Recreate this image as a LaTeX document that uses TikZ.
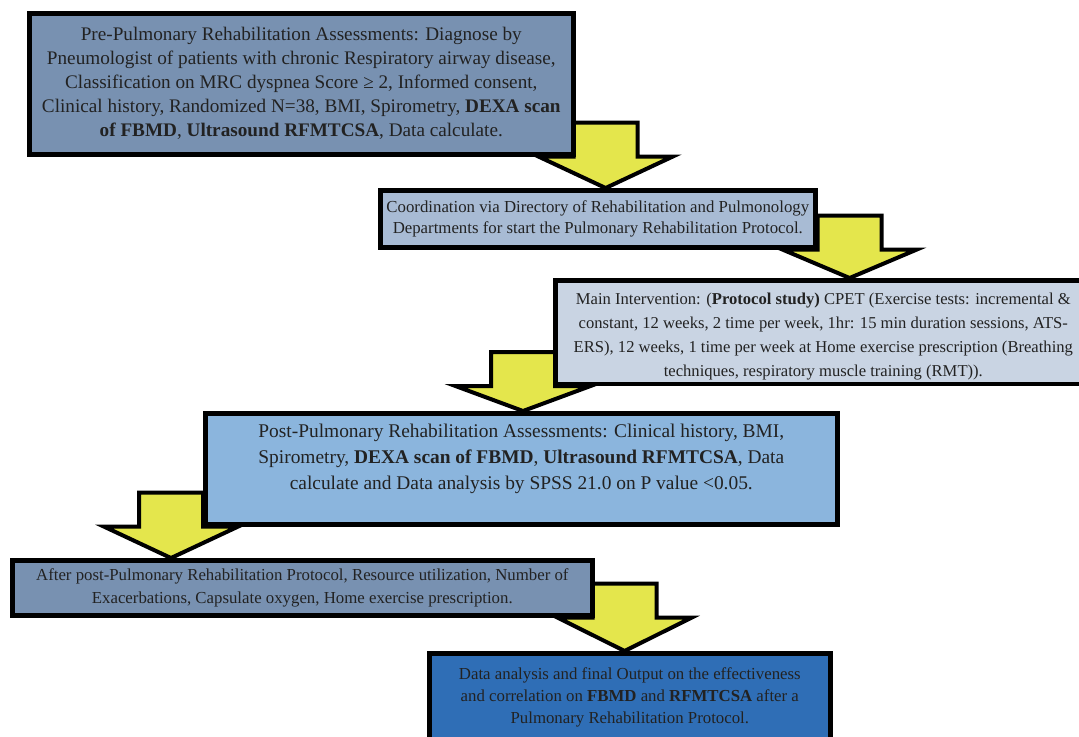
\documentclass[tikz,border=0pt]{standalone}
\usepackage{fontspec}
\setmainfont{Liberation Serif}
\usetikzlibrary{calc,backgrounds}
\definecolor{slatefill}{HTML}{7891B1}
\definecolor{mistfill}{HTML}{A8BBD4}
\definecolor{palefill}{HTML}{C9D4E3}
\definecolor{skyfill}{HTML}{8BB5DD}
\definecolor{deepfill}{HTML}{2F6EB6}
\definecolor{arrowyellow}{HTML}{E4E64C}
\definecolor{inkdark}{HTML}{222222}

% block arrow: #1 source box, #2 target box, #3 point giving the x of the arrow
\newcommand{\flowarrow}[3]{%
  \path[flowarr] let \p1 = #3, \p2 = (#1.south), \p3 = (#2.north) in
    (\x1-16pt,\y2+17pt) -- (\x1+16pt,\y2+17pt) -- (\x1+16pt,\y2)
    -- (\x1+33.5pt,\y2) -- (\x1,\y3) -- (\x1-33.5pt,\y2) -- (\x1-16pt,\y2) -- cycle;}

\begin{document}
\begin{tikzpicture}[
  x=0.5pt, y=-0.5pt,
  stage/.style   = {draw=black, line width=2.3pt, text=inkdark, align=center,
                    inner sep=2pt, anchor=north west},
  flowarr/.style = {draw=black, line width=2pt, fill=arrowyellow, line join=miter},
]
\useasboundingbox (0,0) rectangle (1079,736);
\clip (0,0) rectangle (1079,736);

% --- the six stages --------------------------------------------------------------------------------
\node[stage, fill=slatefill, minimum width=272pt, minimum height=70.5pt,
      font=\fontsize{9.6}{12}\selectfont] (pre) at (27,11)
  {Pre-Pulmonary Rehabilitation Assessments: Diagnose by\\
   Pneumologist of patients with chronic Respiratory airway disease,\\
   Classification on MRC dyspnea Score ≥ 2, Informed consent,\\
   Clinical history, Randomized N=38, BMI, Spirometry, \textbf{DEXA scan}\\
   \textbf{of FBMD}, \textbf{Ultrasound RFMTCSA}, Data calculate.};

\node[stage, fill=mistfill, minimum width=217.5pt, minimum height=28.5pt,
      font=\fontsize{8.4}{10.5}\selectfont] (coord) at (378,188)
  {Coordination via Directory of Rehabilitation and Pulmonology\\
   Departments for start the Pulmonary Rehabilitation Protocol.};

\node[stage, fill=palefill, minimum width=268pt, minimum height=50pt,
      font=\fontsize{8.3}{12}\selectfont, text height=46pt] (main) at (553,278)
  {Main Intervention: (\textbf{Protocol study)} CPET (Exercise tests: incremental \&\\
   constant, 12 weeks, 2 time per week, 1hr: 15 min duration sessions, ATS-\\
   ERS), 12 weeks, 1 time per week at Home exercise prescription (Breathing\\
   techniques, respiratory muscle training (RMT)).};

\node[stage, fill=skyfill, minimum width=316pt, minimum height=55.5pt,
      font=\fontsize{9.7}{13}\selectfont, text depth=12.5pt] (post) at (203,411)
  {Post-Pulmonary Rehabilitation Assessments: Clinical history, BMI,\\
   Spirometry, \textbf{DEXA scan of FBMD}, \textbf{Ultrasound RFMTCSA}, Data\\
   calculate and Data analysis by SPSS 21.0 on P value <0.05.};

\node[stage, fill=slatefill, minimum width=290pt, minimum height=27.5pt,
      font=\fontsize{8.4}{11.5}\selectfont] (after) at (10,558)
  {After post-Pulmonary Rehabilitation Protocol, Resource utilization, Number of\\
   Exacerbations, Capsulate oxygen, Home exercise prescription.};

\node[stage, fill=deepfill, minimum width=200.5pt, minimum height=44.5pt,
      font=\fontsize{8.4}{11}\selectfont] (final) at (427,651)
  {Data analysis and final Output on the effectiveness\\
   and correlation on \textbf{FBMD} and \textbf{RFMTCSA} after a\\
   Pulmonary Rehabilitation Protocol.};

% --- yellow arrows, behind the boxes ----------------------------------------------------------------
\begin{scope}[on background layer]
  \flowarrow{pre}{coord}{([xshift=15pt]pre.east)}
  \flowarrow{coord}{main}{([xshift=16pt]coord.east)}
  \flowarrow{main}{post}{([xshift=-15pt]main.west)}
  \flowarrow{post}{after}{([xshift=-16pt]post.west)}
  \flowarrow{after}{final}{([xshift=15pt]after.east)}
\end{scope}

\end{tikzpicture}
\end{document}
